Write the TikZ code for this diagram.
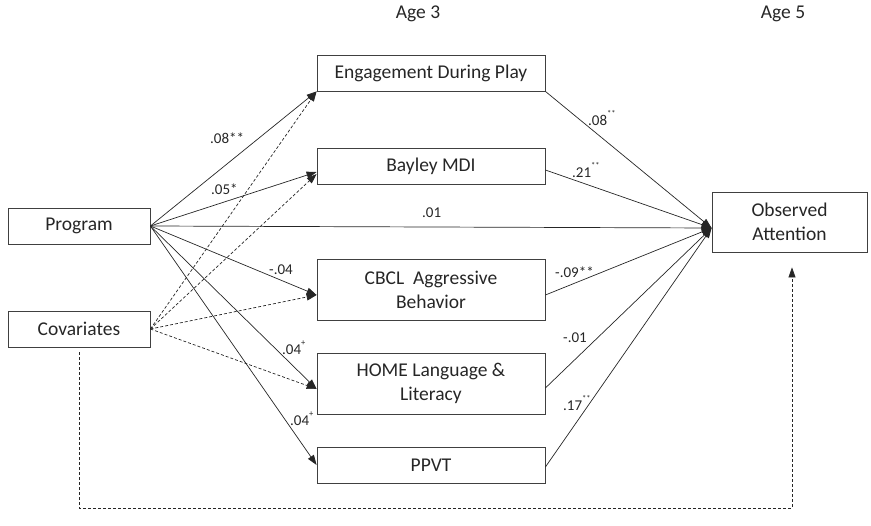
\documentclass[tikz,border=0pt]{standalone}
\usepackage{fontspec}
\setmainfont{Carlito}
\usetikzlibrary{arrows.meta,calc}
\newcommand{\sig}[1]{\raisebox{1.2ex}{\fontsize{8.5}{8.5}\selectfont #1}}
\tikzset{
  box/.style={draw=black!75, line width=0.8pt, minimum width=228pt, minimum height=36pt, inner sep=0pt, align=center, font=\fontsize{19.5}{24}\selectfont, text=black!85},
  hdr/.style={font=\fontsize{19.5}{24}\selectfont, text=black!85},
  coef/.style={anchor=west, inner sep=0pt, font=\fontsize{15}{17}\selectfont, text=black!85},
  path/.style={draw=black!85, line width=0.7pt, -{Triangle[length=10pt,width=7pt]}},
  covpath/.style={path, dashed, dash pattern=on 3pt off 2pt}
}
\begin{document}
\begin{tikzpicture}[x=1pt,y=-1pt]
\useasboundingbox (0,0) rectangle (871,526);
% time points
\node[hdr] (age3) at (418,14) {Age 3};
\node[hdr] (age5) at (783,14) {Age 5};
% boxes
\node[box, minimum width=142pt] (prog) at (79,226) {Program};
\node[box, minimum width=142pt] (cov) at (79,329) {Covariates};
\node[box] (eng) at (431,73) {Engagement During Play};
\node[box] (bay) at (431,166) {Bayley MDI};
\node[box, minimum height=61pt] (cbcl) at (431,289.5) {CBCL\ \ Aggressive\\Behavior};
\node[box, minimum height=61pt] (home) at (431,383.5) {HOME Language \&\\Literacy};
\node[box] (ppvt) at (431,465) {PPVT};
\node[box, minimum width=155pt, minimum height=60pt] (attn) at (789.5,222) {Observed\\Attention};
\coordinate (hub) at ([yshift=-6pt]attn.west);
\coordinate (loop) at (79,508);
% program paths
\draw[path] (prog.east) -- (eng.south west);
\draw[path] (prog.east) -- ([yshift=-6pt]bay.west);
\draw[path] (prog.east) -- (hub);
\draw[path] (prog.east) -- ([yshift=-5.5pt]cbcl.west);
\draw[path] (prog.east) -- ([yshift=-5.5pt]home.west);
\draw[path] (prog.east) -- (ppvt.west);
% covariate paths
\draw[covpath] (cov.east) -- (eng.south west);
\draw[covpath] (cov.east) -- ([yshift=-8pt]bay.west);
\draw[covpath] (cov.east) -- ([yshift=-5.5pt]cbcl.west);
\draw[covpath] (cov.east) -- ([yshift=-5.5pt]home.west);
\draw[covpath] ([yshift=-5pt]cov.south) -- (loop) -| ([xshift=2.5pt,yshift=-15pt]attn.south);
% age 3 to age 5
\draw[path] (eng.south east) -- (hub);
\draw[path] ([yshift=-4pt]bay.east) -- (hub);
\draw[path] ([yshift=-5.5pt]cbcl.east) -- (hub);
\draw[path] ([yshift=-4.5pt]home.east) -- (hub);
\draw[path] ([yshift=-2pt]ppvt.east) -- (hub);
% coefficients
\node[coef] (c1) at (210,138) {.08**};
\node[coef] (c2) at (211,189) {.05*};
\node[coef] (c3) at (422,213) {.01};
\node[coef] (c4) at (269,270) {-.04};
\node[coef] (c5) at (282,348) {.04\sig{+}};
\node[coef] (c6) at (290,419) {.04\sig{+}};
\node[coef] (c7) at (588,118) {.08\sig{**}};
\node[coef] (c8) at (572,170) {.21\sig{**}};
\node[coef] (c9) at (555,272) {-.09**};
\node[coef] (c10) at (563,338) {-.01};
\node[coef] (c11) at (563,403) {.17\sig{**}};
\end{tikzpicture}
\end{document}
